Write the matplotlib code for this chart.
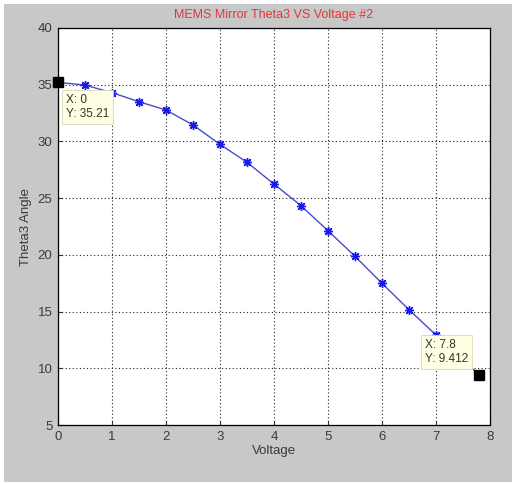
import matplotlib.pyplot as plt
from matplotlib.patches import Rectangle

# ---------------- data ----------------
voltage = [0, 0.5, 1, 1.5, 2, 2.5, 3, 3.5, 4, 4.5, 5, 5.5, 6, 6.5, 7, 7.8]
theta3 = [35.21, 34.97, 34.3, 33.5, 32.77, 31.45, 29.74, 28.16, 26.24,
          24.33, 22.13, 19.87, 17.49, 15.16, 12.93, 9.412]
xticks = [0, 1, 2, 3, 4, 5, 6, 7, 8]
yticks = [5, 10, 15, 20, 25, 30, 35, 40]
tips = [(0, 35.21, 'X: 0\nY: 35.21'), (7.8, 9.412, 'X: 7.8\nY: 9.412')]

plt.rcParams['font.family'] = ['Liberation Sans', 'DejaVu Sans']

# ---------------- figure ----------------
fig = plt.figure(figsize=(5.18, 4.83), dpi=100, facecolor='white')
fig.patches.append(Rectangle((4 / 518, 1 / 483), 508 / 518, 478 / 483,
                             transform=fig.transFigure, facecolor='#c8c8c8',
                             edgecolor='none', zorder=-10))

ax = fig.add_axes([58 / 518, 58 / 483, 432 / 518, 397 / 483])
ax.set_facecolor('white')

ax.plot(voltage, theta3, '-', color='#4a4ac8', lw=1.0, zorder=3)
ax.plot(voltage, theta3, ls='none', marker=(8, 2, 0), color='#1a1ae6',
        ms=6.5, mew=1.0, zorder=3)

ax.set_xlim(0, 8)
ax.set_ylim(5, 40)
ax.set_xticks(xticks)
ax.set_yticks(yticks)
ax.grid(True, color='#222222', linestyle=(0, (1, 2.2)), lw=0.8)
ax.tick_params(direction='in', length=3, labelsize=9.5, labelcolor='#3a3a3a',
               color='#333333', pad=4)
for s in ax.spines.values():
    s.set_linewidth(0.9)

ax.set_title('MEMS Mirror Theta3 VS Voltage #2', color='#e03838',
             fontsize=9, pad=7)
ax.set_xlabel('Voltage', fontsize=9.5, color='#3a3a3a', labelpad=2)
ax.set_ylabel('Theta3 Angle', fontsize=9.5, color='#3a3a3a', labelpad=4)

# data tips
for (tx, ty, label), off, ha, va in zip(tips, [(8, -12), (-11, 10)],
                                         ['left', 'right'], ['top', 'bottom']):
    ax.annotate(label, xy=(tx, ty), xytext=off, textcoords='offset pixels',
                ha=ha, va=va, multialignment='left', fontsize=8.5,
                color='#333333', zorder=6, annotation_clip=False,
                bbox=dict(boxstyle='square,pad=0.35', facecolor='#ffffe4',
                          edgecolor='#d8d8c0', lw=0.6))
    ax.plot(tx, ty, 's', color='black', ms=6.5, zorder=7, clip_on=False)

fig.savefig('out.png', dpi=100, facecolor=fig.get_facecolor())
